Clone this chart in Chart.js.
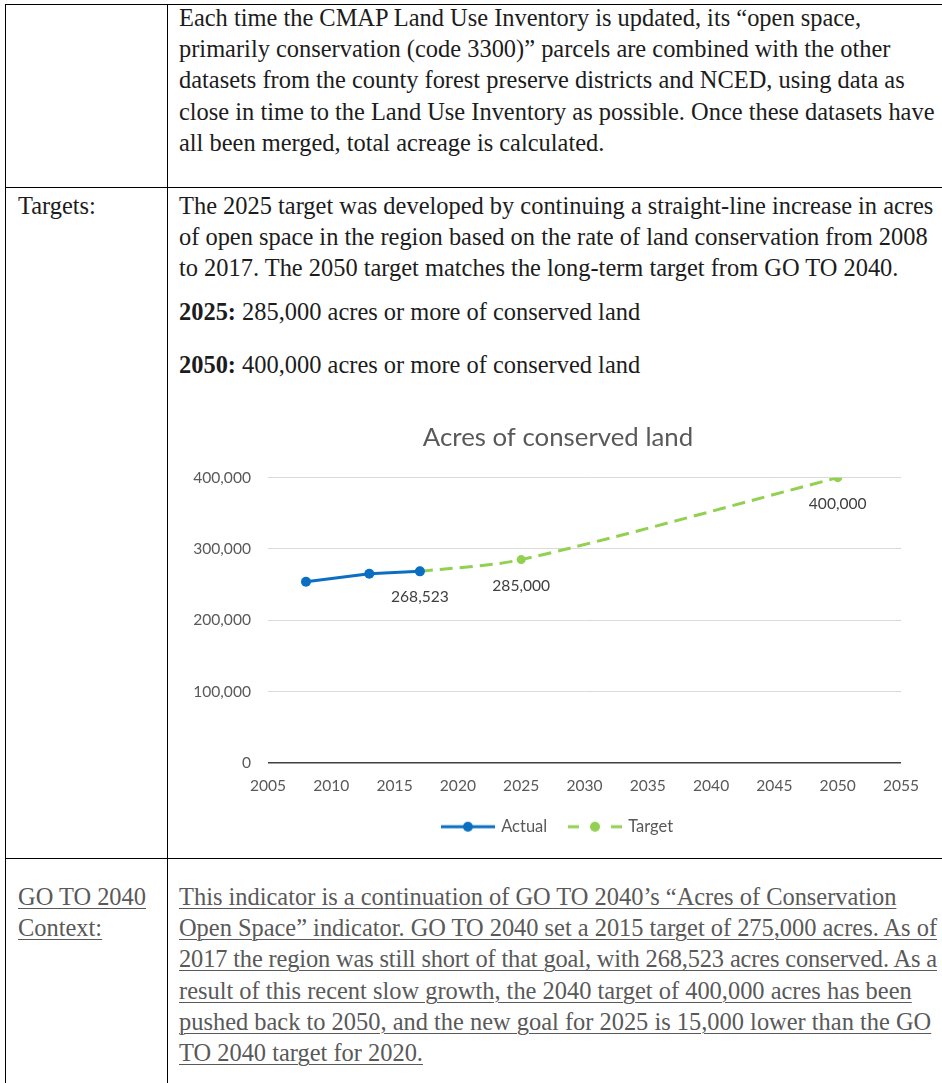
<!DOCTYPE html>
<html>
<head>
<meta charset="utf-8">
<script src="https://cdn.jsdelivr.net/npm/chart.js@4.4.1/dist/chart.umd.min.js"></script>
<style>
  html, body { margin: 0; padding: 0; background: #fff; }
  body { width: 942px; height: 1083px; position: relative; overflow: hidden; }
  .hl { position: absolute; left: 5px; right: -10px; height: 0; border-top: 1.5px solid #000; }
  .vl { position: absolute; top: 4px; bottom: -10px; width: 0; border-left: 1.5px solid #000; }
  .txt { position: absolute; font-family: "Liberation Serif", serif; font-size: 24px; line-height: 31.2px; color: #1c1c1c; white-space: nowrap; }
  .txt span { display: block; }
  .ctx { color: #595959; }
  .ctx span { display: inline-block; text-decoration: underline; text-decoration-thickness: 1px; text-underline-offset: 3px; }
  #chartBox { position: absolute; left: 172px; top: 400px; }
</style>
</head>
<body>
<div class="hl" style="top:4px"></div>
<div class="hl" style="top:187px"></div>
<div class="hl" style="top:858px"></div>
<div class="vl" style="left:5px"></div>
<div class="vl" style="left:167px"></div>

<div class="txt" style="left:179px;top:2px">
  <span>Each time the CMAP Land Use Inventory is updated, its “open space,</span>
  <span>primarily conservation (code 3300)” parcels are combined with the other</span>
  <span>datasets from the county forest preserve districts and NCED, using data as</span>
  <span id="fitLine">close in time to the Land Use Inventory as possible. Once these datasets have</span>
  <span>all been merged, total acreage is calculated.</span>
</div>

<div class="txt" style="left:18px;top:190px"><span>Targets:</span></div>
<div class="txt" style="left:179px;top:190px">
  <span>The 2025 target was developed by continuing a straight-line increase in acres</span>
  <span>of open space in the region based on the rate of land conservation from 2008</span>
  <span>to 2017. The 2050 target matches the long-term target from GO TO 2040.</span>
</div>
<div class="txt" style="left:179px;top:296px"><span><b>2025:</b> 285,000 acres or more of conserved land</span></div>
<div class="txt" style="left:179px;top:349px"><span><b>2050:</b> 400,000 acres or more of conserved land</span></div>

<div class="txt ctx" style="left:18px;top:881px">
  <span>GO TO 2040</span><br><span>Context:</span>
</div>
<div class="txt ctx" style="left:179px;top:881px">
  <span>This indicator is a continuation of GO TO 2040’s “Acres of Conservation</span><br>
  <span>Open Space” indicator. GO TO 2040 set a 2015 target of 275,000 acres. As of</span><br>
  <span>2017 the region was still short of that goal, with 268,523 acres conserved. As a</span><br>
  <span>result of this recent slow growth, the 2040 target of 400,000 acres has been</span><br>
  <span>pushed back to 2050, and the new goal for 2025 is 15,000 lower than the GO</span><br>
  <span>TO 2040 target for 2020.</span>
</div>

<div id="chartBox"><canvas id="chart" width="772" height="450"></canvas></div>

<script>
// chart values
const actualYears = [2008, 2013, 2017];
const actualValues = [254000, 265300, 268523];
const actualShowLabel = [false, false, true];

const targetYears = [2017, 2025, 2050];
const targetValues = [268523, 285000, 400000];
const targetShowLabel = [false, true, true];

const xMin = 2005, xMax = 2055, xStep = 5;
const yMin = 0, yMax = 400000, yStep = 100000;

const BLUE = '#0A6FC2';
const GREEN = '#92D050';
const AXIS_TEXT = '#595959';
const FONT = 'Lato';

function legendSymbol(color, dashed) {
  const c = document.createElement('canvas');
  c.width = 54; c.height = 12;
  const g = c.getContext('2d');
  g.strokeStyle = color;
  g.lineWidth = 3;
  if (dashed) g.setLineDash([11, 32]);
  g.beginPath(); g.moveTo(0, 6); g.lineTo(54, 6); g.stroke();
  g.fillStyle = color;
  g.beginPath(); g.arc(27, 6, 5, 0, Math.PI * 2); g.fill();
  return c;
}

const pointLabels = {
  id: 'pointLabels',
  afterDatasetsDraw(chart) {
    const { ctx } = chart;
    ctx.save();
    ctx.font = `15.6px ${FONT}`;
    ctx.fillStyle = '#404040';
    ctx.textAlign = 'center';
    ctx.textBaseline = 'middle';
    chart.data.datasets.forEach((ds, i) => {
      chart.getDatasetMeta(i).data.forEach((pt, j) => {
        if (!ds.showLabel[j]) return;
        ctx.fillText(ds.data[j].y.toLocaleString('en-US'), pt.x, pt.y + 26);
      });
    });
    ctx.restore();
  }
};

function textWidth(el) {
  const r = document.createRange();
  r.selectNodeContents(el);
  return r.getBoundingClientRect().width;
}

function fitText() {
  const w = textWidth(document.getElementById('fitLine'));
  const size = 24 * 756 / w;
  document.querySelectorAll('.txt').forEach(el => { el.style.fontSize = size + 'px'; });
  // squeeze any line that runs past the page edge
  document.querySelectorAll('.txt span').forEach(sp => {
    const over = textWidth(sp) - 758;
    if (over > 0) sp.style.letterSpacing = (-over / sp.textContent.length) + 'px';
  });
}

function drawChart() {
  const symbols = [legendSymbol(BLUE, false), legendSymbol(GREEN, true)];
  new Chart(document.getElementById('chart'), {
    type: 'line',
    data: {
      datasets: [
        {
          label: 'Actual',
          data: actualYears.map((x, i) => ({ x, y: actualValues[i] })),
          showLabel: actualShowLabel,
          borderColor: BLUE, backgroundColor: BLUE,
          borderWidth: 3, tension: 0,
          pointRadius: 5, pointHoverRadius: 5, pointBorderWidth: 0,
          pointBackgroundColor: BLUE
        },
        {
          label: 'Target',
          data: targetYears.map((x, i) => ({ x, y: targetValues[i] })),
          showLabel: targetShowLabel,
          borderColor: GREEN, backgroundColor: GREEN,
          borderWidth: 3, borderDash: [13, 7], tension: 0.3,
          pointRadius: 4.5, pointHoverRadius: 4.5, pointBorderWidth: 0,
          pointBackgroundColor: GREEN
        }
      ]
    },
    options: {
      responsive: false,
      animation: false,
      devicePixelRatio: 1,
      layout: { padding: { left: 0, right: 0, top: 0, bottom: 5 } },
      scales: {
        x: {
          type: 'linear', min: xMin, max: xMax,
          ticks: { stepSize: xStep, callback: v => String(v), color: AXIS_TEXT, font: { family: FONT, size: 15.6 }, padding: 14 },
          grid: { display: false, drawTicks: false },
          border: { display: false },
          afterFit: s => { s.height = 33; }
        },
        y: {
          min: yMin, max: yMax,
          ticks: { stepSize: yStep, callback: v => v.toLocaleString('en-US'), color: AXIS_TEXT, font: { family: FONT, size: 15.6 }, padding: 17 },
          grid: {
            drawTicks: false,
            color: c => c.tick && c.tick.value === 0 ? '#404040' : '#D9D9D9',
            lineWidth: c => c.tick && c.tick.value === 0 ? 1.5 : 1
          },
          border: { display: false },
          afterFit: s => { s.width = 96; }
        },
        // empty right-hand space so the title and legend centre like the original
        yRight: {
          position: 'right',
          ticks: { display: false },
          grid: { display: false },
          border: { display: false },
          afterFit: s => { s.width = 43; }
        }
      },
      plugins: {
        tooltip: { enabled: false },
        title: {
          display: true, text: 'Acres of conserved land', color: AXIS_TEXT,
          font: { family: FONT, size: 25.8, weight: 'normal' },
          padding: { top: 22, bottom: 24.7 }
        },
        legend: {
          position: 'bottom',
          labels: {
            usePointStyle: true, pointStyleWidth: 50, padding: 22.75,
            color: AXIS_TEXT, font: { family: FONT, size: 16.5 },
            generateLabels: chart => chart.data.datasets.map((ds, i) => ({
              text: ds.label, pointStyle: symbols[i], fontColor: AXIS_TEXT,
              datasetIndex: i, hidden: false, lineWidth: 0,
              strokeStyle: 'rgba(0,0,0,0)', fillStyle: 'rgba(0,0,0,0)'
            }))
          }
        }
      }
    },
    plugins: [pointLabels]
  });
}

Promise.all([
  document.fonts.load('16px Lato'),
  document.fonts.load('24px "Liberation Serif"'),
  document.fonts.load('bold 24px "Liberation Serif"')
]).catch(() => {}).then(() => { fitText(); drawChart(); });
</script>
</body>
</html>
